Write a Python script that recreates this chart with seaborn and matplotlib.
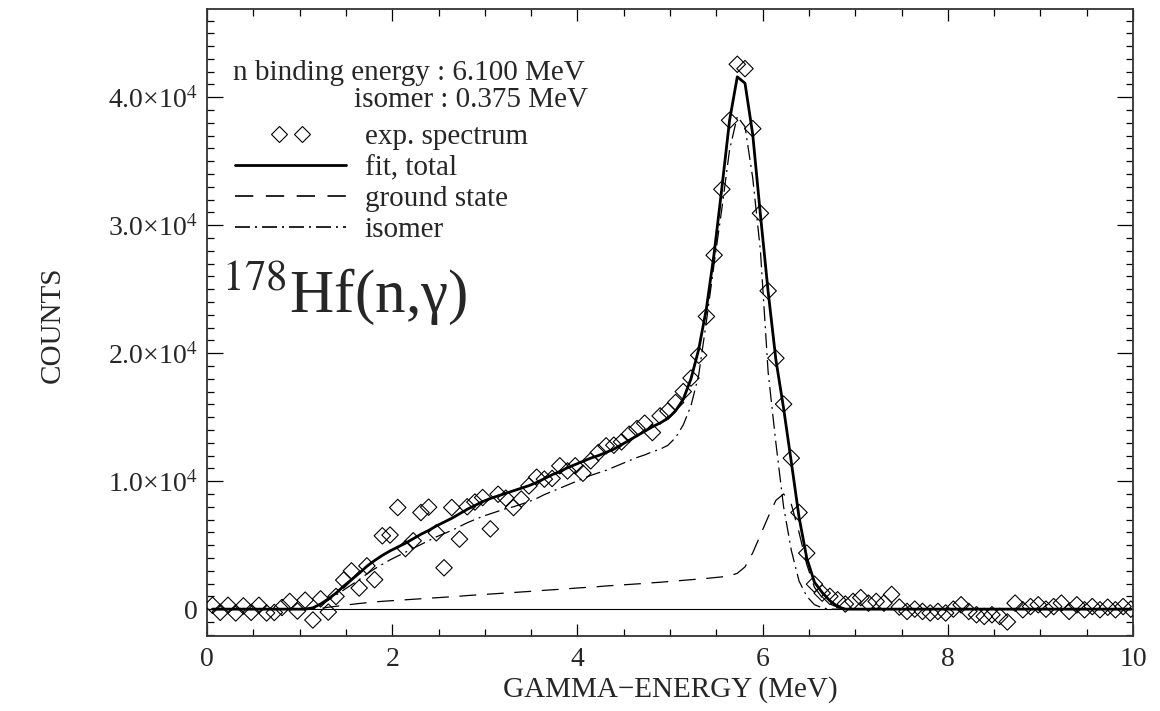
import numpy as np
import pandas as pd
import matplotlib
matplotlib.use("Agg")
import matplotlib.pyplot as plt
from matplotlib.lines import Line2D
from matplotlib.legend_handler import HandlerLine2D
from matplotlib.ticker import FixedLocator, MultipleLocator
import seaborn as sns

# Energy calibration of the spectrum channels (MeV)
E_FIRST = 0.06
E_STEP = 1.0 / 12.0

# Measured gamma spectrum (counts per channel)
counts = [
    300, -250, 300, -300, 250, -250, 300, -300, -260, 130,
    600, -150, 700, -850, 800, -230, 990, 2270, 2990, 1650,
    3380, 2300, 5730, 5790, 7940, 4730, 5340, 7550, 7970, 5960,
    3230, 7940, 5470, 8000, 8370, 8720, 6270, 8980, 8670, 7940,
    8600, 9630, 10310, 10160, 10210, 11200, 10800, 11200, 10620, 11590,
    12240, 12760, 12810, 13070, 13670, 14110, 14530, 13800, 15100, 15490,
    16150, 17000, 18060, 19840, 22870, 27660, 32810, 38200, 42580, 42240,
    37550, 30940, 24870, 19610, 16020, 11800, 7550, 4375, 1950, 1250,
    1000, 730, 400, 600, 900, 470, 600, 470, 1150, 160,
    -180, 0, -180, -300, -180, -300, 0, 340, -180, -440,
    -570, -440, -570, -1000, 470, -50, 200, 340, 0, 200,
    470, -180, 340, -50, 200, -50, 150, -50, 200, 0,
]

# Fitted response: total, ground-state and isomer components
fit_total = (
    [0] * 13
    + [100, 400, 800, 1250, 1800, 2300, 2800, 3350, 3800, 4200,
       4550, 4850, 5150, 5500, 5850, 6150, 6500, 6800, 7100, 7450,
       7800, 8100, 8400, 8650, 8850, 9050, 9250, 9450, 9650, 9900,
       10200, 10500, 10750, 11050, 11300, 11550, 11800, 12000, 12250, 12500,
       12850, 13200, 13550, 13900, 14250, 14550, 14900, 15500, 16400, 18000,
       20300, 23500, 27800, 32900, 38200, 41600, 41100, 37100, 30800, 24800,
       19500, 15700, 11500, 7200, 4000, 2100, 1300, 650, 200]
    + [0] * 38
)
ground_state = (
    [0] * 14
    + [50, 150, 220, 300, 370, 440, 500, 560, 610, 650,
       690, 730, 770, 810, 850, 890, 930, 970, 1010, 1060,
       1100, 1140, 1180, 1220, 1260, 1300, 1340, 1380, 1430, 1470,
       1510, 1550, 1590, 1640, 1680, 1720, 1760, 1810, 1850, 1890,
       1930, 1970, 2010, 2060, 2100, 2150, 2200, 2250, 2300, 2350,
       2400, 2460, 2520, 2600, 2800, 3300, 4400, 5800, 7200, 8500,
       9000, 8200, 6000, 3500, 1700, 900, 400, 150]
    + [0] * 38
)
isomer = (
    [0] * 14
    + [300, 700, 1100, 1500, 1900, 2300, 2750, 3150, 3500, 3850,
       4150, 4450, 4750, 5050, 5350, 5650, 5900, 6150, 6450, 6750,
       7000, 7250, 7450, 7650, 7850, 8000, 8200, 8400, 8650, 8950,
       9200, 9450, 9700, 9950, 10200, 10450, 10650, 10850, 11100, 11350,
       11600, 11850, 12050, 12300, 12500, 12800, 13400, 14400, 15900, 18300,
       22500, 27000, 31300, 35900, 38500, 37700, 33700, 28000, 18500, 13000,
       8000, 4600, 2200, 1000, 350, 100]
    + [0] * 40
)

x_ticks = [0, 2, 4, 6, 8, 10]
x_tick_labels = ["0", "2", "4", "6", "8", "10"]
y_ticks = [0, 10000, 20000, 30000, 40000]
y_tick_labels = ["0", "1.0×10$^{4}$", "2.0×10$^{4}$", "3.0×10$^{4}$", "4.0×10$^{4}$"]
series_labels = ["exp. spectrum", "fit, total", "ground state", "isomer"]

energy = E_FIRST + E_STEP * np.arange(len(counts))
df = pd.DataFrame({
    "energy": energy,
    "counts": counts,
    "fit_total": fit_total,
    "ground_state": ground_state,
    "isomer": isomer,
})

sns.set_theme(style="ticks")
plt.rcParams["font.family"] = ["Liberation Serif", "DejaVu Serif"]
plt.rcParams["mathtext.fontset"] = "stix"

W, H = 1160, 711
fig = plt.figure(figsize=(W / 100, H / 100), dpi=100)
fig.patch.set_facecolor("white")
ax = fig.add_axes([207 / W, 1 - 636 / H, 926 / W, 627 / H])
ax.set_facecolor("white")

DASH_GS = (0, (13.5, 8.5))
DASH_ISO = (0, (12, 4, 1.6, 4))

ax.axhline(0, color="black", lw=0.8, zorder=1)

sns.lineplot(data=df, x="energy", y="ground_state", ax=ax, color="black",
             lw=0.9, linestyle=DASH_GS, estimator=None, sort=False, zorder=2)
sns.lineplot(data=df, x="energy", y="isomer", ax=ax, color="black",
             lw=0.9, linestyle=DASH_ISO, estimator=None, sort=False, zorder=2)
sns.lineplot(data=df, x="energy", y="fit_total", ax=ax, color="black",
             lw=2.0, estimator=None, sort=False, zorder=3)
sns.scatterplot(data=df, x="energy", y="counts", ax=ax, marker="D", s=70,
                linewidth=0.8, zorder=4)
pts = ax.collections[-1]
pts.set_facecolor("none")
pts.set_edgecolor("black")

ax.set_xlim(0, 10)
ax.set_ylim(-2100, 46900)
ax.set_xlabel("")
ax.set_ylabel("")

ax.xaxis.set_major_locator(FixedLocator(x_ticks))
ax.set_xticklabels(x_tick_labels)
ax.xaxis.set_minor_locator(MultipleLocator(0.5))
ax.yaxis.set_major_locator(FixedLocator(y_ticks))
ax.set_yticklabels(y_tick_labels)
ax.yaxis.set_minor_locator(MultipleLocator(1000))

ax.tick_params(which="both", direction="in", top=True, right=True,
               width=0.9, color="black", labelsize=20)
ax.tick_params(axis="x", which="major", length=8.6, pad=8)
ax.tick_params(axis="x", which="minor", length=5)
ax.tick_params(axis="y", which="major", length=11.5, pad=7)
ax.tick_params(axis="y", which="minor", length=5)
for sp in ax.spines.values():
    sp.set_linewidth(1.3)
    sp.set_color("#333333")

ax.text(0.5, -0.086, "GAMMA\u2212ENERGY (MeV)", transform=ax.transAxes,
        ha="center", va="center", fontsize=21)
ax.text(-0.167, 0.496, "COUNTS", transform=ax.transAxes, rotation=90,
        ha="center", va="center", fontsize=21)

ax.text(0.028, 0.887, "n binding energy : 6.100 MeV", transform=ax.transAxes,
        ha="left", va="baseline", fontsize=21)
ax.text(0.159, 0.844, "isomer : 0.375 MeV", transform=ax.transAxes,
        ha="left", va="baseline", fontsize=21)

ax.text(0.016, 0.517, "$^{178}$Hf(n,\u03b3)", transform=ax.transAxes,
        ha="left", va="baseline", fontsize=44)

h_exp = Line2D([], [], marker="D", ls="none", ms=8.4, mfc="none",
               mec="black", mew=0.8)
h_fit = Line2D([], [], color="black", lw=2.0)
h_gs = Line2D([], [], color="black", lw=1.2, ls=(0, (11, 7.5)))
h_iso = Line2D([], [], color="black", lw=1.2, ls=(0, (9, 3, 1.2, 3)))
ax.legend([h_exp, h_fit, h_gs, h_iso], series_labels,
          loc="upper left", bbox_to_anchor=(0.030, 0.817),
          frameon=False, fontsize=21, handlelength=3.8, handletextpad=0.65,
          labelspacing=0.16, borderpad=0, borderaxespad=0,
          handler_map={h_exp: HandlerLine2D(numpoints=2, marker_pad=1.5)})

fig.savefig("out.png", dpi=100, facecolor="white")
